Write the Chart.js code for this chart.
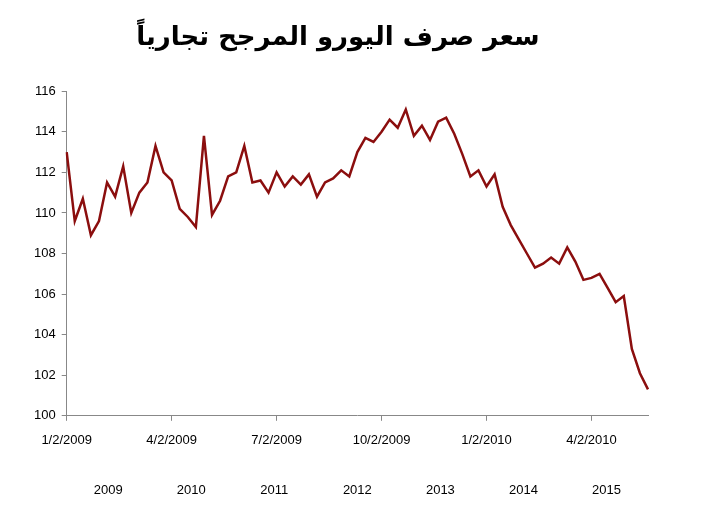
<!DOCTYPE html>
<html>
<head>
<meta charset="utf-8">
<script src="https://cdn.jsdelivr.net/npm/chart.js@4/dist/chart.umd.min.js"></script>
<style>
  body { margin: 0; background: #fff; }
  #wrap { width: 710px; height: 520px; }
</style>
</head>
<body>
<div id="wrap"><canvas id="c"></canvas></div>
<script>
// weekly values, 1/2/2009 .. mid 2010
const values = [
  113.0, 109.6, 110.7, 108.9, 109.6, 111.5, 110.8, 112.3, 110.0, 111.0,
  111.5, 113.3, 112.0, 111.6, 110.2, 109.8, 109.3, 113.8, 109.9, 110.6,
  111.8, 112.0, 113.3, 111.5, 111.6, 111.0, 112.0, 111.3, 111.8, 111.4,
  111.9, 110.8, 111.5, 111.7, 112.1, 111.8, 113.0, 113.7, 113.5, 114.0,
  114.6, 114.2, 115.1, 113.8, 114.3, 113.6, 114.5, 114.7, 113.9, 112.9,
  111.8, 112.1, 111.3, 111.9, 110.3, 109.4, 108.7, 108.0, 107.3, 107.5,
  107.8, 107.5, 108.3, 107.6, 106.7, 106.8, 107.0, 106.3, 105.6, 105.9,
  103.3, 102.1, 101.3
];
const tickLabels = { 0: "1/2/2009", 13: "4/2/2009", 26: "7/2/2009", 39: "10/2/2009", 52: "1/2/2010", 65: "4/2/2010" };
const years = ["2009", "2010", "2011", "2012", "2013", "2014", "2015"];

const labels = values.map((v, i) => tickLabels[i] || "");
const font = { family: "Arial, 'Liberation Sans', sans-serif", size: 13 };

new Chart(document.getElementById("c").getContext("2d"), {
  type: "line",
  data: {
    labels: labels,
    datasets: [{
      data: values,
      borderColor: "#8b0e0e",
      borderWidth: 2.5,
      pointRadius: 0,
      tension: 0,
      fill: false,
    }],
  },
  options: {
    responsive: true,
    maintainAspectRatio: false,
    animation: false,
    layout: { padding: { left: 28, right: 62, top: 15, bottom: 8 } },
    plugins: {
      legend: { display: false },
      tooltip: { enabled: false },
      title: {
        display: true,
        text: "سعر صرف اليورو المرجح تجارياً",
        color: "#000",
        font: { family: "'DejaVu Sans', sans-serif", size: 26, weight: "bold" },
        padding: { top: 8, bottom: 37 },
      },
    },
    scales: {
      x: {
        offset: false,
        grid: {
          display: true, drawOnChartArea: false, drawTicks: true, tickLength: 5, color: (c) => (c.tick && c.tick.label ? "#888" : "rgba(0,0,0,0)"),
        },
        border: { color: "#888" },
        ticks: { autoSkip: false, maxRotation: 0, color: "#000", font: font, padding: 12 },
      },
      x2: {
        type: "category",
        labels: years,
        position: "bottom",
        offset: true,
        grid: { display: false },
        border: { display: false },
        ticks: { color: "#000", font: font, padding: 14 },
      },
      y: {
        min: 100,
        max: 116,
        grid: { display: true, drawOnChartArea: false, drawTicks: true, tickLength: 5, color: "#888" },
        border: { color: "#888" },
        ticks: { stepSize: 2, color: "#000", font: font, padding: 6 },
      },
    },
  },
});
</script>
</body>
</html>
